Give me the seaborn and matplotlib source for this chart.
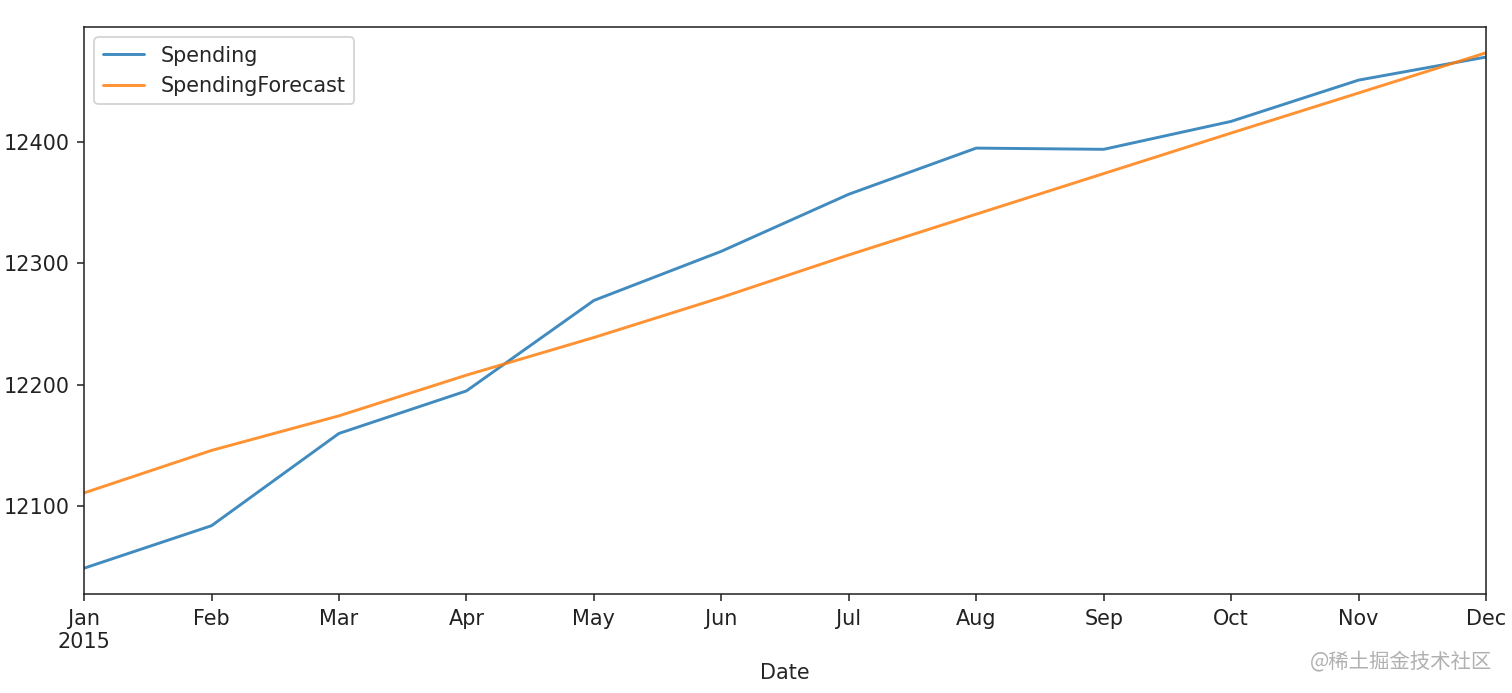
import matplotlib
matplotlib.use("Agg")
import matplotlib.pyplot as plt
import pandas as pd
import seaborn as sns

months = ["Jan", "Feb", "Mar", "Apr", "May", "Jun",
          "Jul", "Aug", "Sep", "Oct", "Nov", "Dec"]
spending = [12049, 12084, 12160, 12195, 12269.5, 12310,
            12357, 12395, 12394, 12417, 12451, 12470]
forecast = [12111, 12146, 12174.5, 12208, 12239, 12272,
            12307, 12340.6, 12374, 12407.4, 12440.4, 12473.5]
tick_labels = ["Jan\n2015"] + months[1:]

df = pd.DataFrame({"Date": months, "Spending": spending,
                   "SpendingForecast": forecast})

sns.set_style("ticks")
plt.rcParams["font.family"] = ["DejaVu Sans", "Noto Sans CJK SC"]
plt.rcParams["font.size"] = 10.7

fig = plt.figure(figsize=(10.8, 4.95), dpi=140)
ax = fig.add_axes([0.0556, 0.1429, 0.9272, 0.8181])

sns.lineplot(data=df, x="Date", y="Spending", ax=ax, label="Spending",
             color="#1f77b4", lw=1.5, alpha=0.85)
sns.lineplot(data=df, x="Date", y="SpendingForecast", ax=ax,
             label="SpendingForecast", color="#ff7f0e", lw=1.5, alpha=0.85)

ax.set_xlim(0, len(months) - 1)
ax.set_xticks(range(len(months)))
ax.set_xticklabels(tick_labels)
ax.set_ylabel("")
ax.set_xlabel("Date", fontsize=10.7, labelpad=6)
for s in ax.spines.values():
    s.set_visible(True)
    s.set_linewidth(0.8)
    s.set_color("#222222")
ax.tick_params(colors="#222222", length=3.5, width=0.8, labelsize=10.7,
               pad=4)
ax.legend(loc="upper left", frameon=True, fontsize=10.7)

fig.text(0.987, 0.045, "@稀土掘金技术社区", ha="right", va="center",
         fontsize=10.5, color="#b0b0b0",
         family=["Noto Sans CJK SC", "DejaVu Sans"])

fig.savefig("out.png", dpi=140)
